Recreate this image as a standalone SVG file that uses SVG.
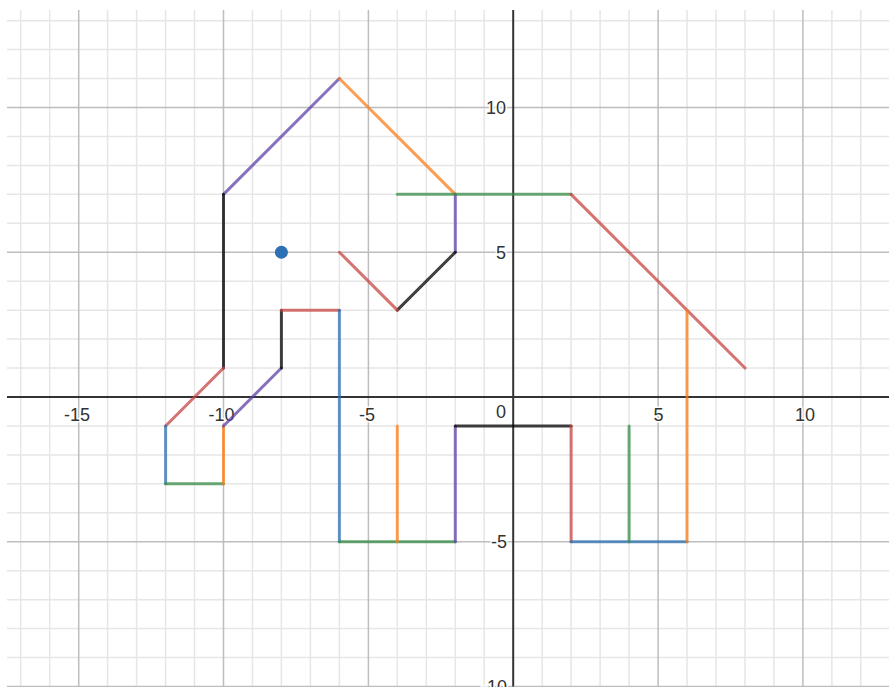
<svg xmlns="http://www.w3.org/2000/svg" width="889" height="687" viewBox="0 0 889 687">
<style>
.minor{stroke:#e6e6e6;stroke-width:1.5;fill:none}
.major{stroke:#bdbdbd;stroke-width:1.5;fill:none}
.axis{stroke:#333;stroke-width:2;fill:none}
.seg{fill:none;stroke-width:3;stroke-linecap:round;stroke-linejoin:round;stroke-opacity:0.75}
.r{stroke:#c74440}.b{stroke:#2d70b3}.g{stroke:#388c46}.p{stroke:#6042a6}.o{stroke:#fa7e19}.k{stroke:#000}
.lbl{font-family:"Liberation Sans",Arial,sans-serif;font-size:18px;fill:#333;stroke:#fff;stroke-width:3;paint-order:stroke;stroke-linejoin:round}
</style>
<rect width="889" height="687" fill="#fff"/>
<g id="grid-minor" class="minor">
<path d="M20.7 10V686.5M49.7 10V686.5M107.6 10V686.5M136.6 10V686.5M165.6 10V686.5M194.5 10V686.5M252.5 10V686.5M281.4 10V686.5M310.4 10V686.5M339.4 10V686.5M397.3 10V686.5M426.3 10V686.5M455.3 10V686.5M484.2 10V686.5M542.2 10V686.5M571.1 10V686.5M600.1 10V686.5M629.1 10V686.5M687 10V686.5M716 10V686.5M745 10V686.5M773.9 10V686.5M831.9 10V686.5M860.8 10V686.5"/>
<path d="M7 20.65H889M7 49.6H889M7 78.55H889M7 136.45H889M7 165.4H889M7 194.35H889M7 223.3H889M7 281.2H889M7 310.15H889M7 339.1H889M7 368.05H889M7 425.95H889M7 454.9H889M7 483.85H889M7 512.8H889M7 570.7H889M7 599.65H889M7 628.6H889M7 657.55H889"/>
</g>
<g id="grid-major" class="major">
<path d="M78.7 10V686.5M223.5 10V686.5M368.4 10V686.5M658.1 10V686.5M802.9 10V686.5"/>
<path d="M7 107.5H889M7 252.25H889M7 541.75H889M7 686.5H889"/>
</g>
<g id="axes" class="axis">
<path d="M513.2 10V686.5"/>
<path d="M7 397H889"/>
</g>
<g id="labels" class="lbl">
<text x="77" y="421" text-anchor="middle">-15</text>
<text x="221.5" y="421" text-anchor="middle">-10</text>
<text x="367" y="421" text-anchor="middle">-5</text>
<text x="501" y="418" text-anchor="middle">0</text>
<text x="658.5" y="421" text-anchor="middle">5</text>
<text x="805" y="421" text-anchor="middle">10</text>
<text x="506" y="114" text-anchor="end">10</text>
<text x="506" y="259" text-anchor="end">5</text>
<text x="507" y="548" text-anchor="end">-5</text>
<text x="507" y="693" text-anchor="end">-10</text>
</g>
<g id="connectors">
<g id="head">
<path class="seg p" d="M223.5 194.35L339.4 78.55"/>
<path class="seg o" d="M339.4 78.55L455.3 194.35"/>
<path class="seg p" d="M455.3 194.35V252.25"/>
<path class="seg k" d="M455.3 252.25L397.3 310.15"/>
<path class="seg r" d="M397.3 310.15L339.4 252.25"/>
<path class="seg g" d="M397.3 194.35H571.1"/>
<path class="seg r" d="M571.1 194.35L745 368.05"/>
</g>
<g id="trunk">
<path class="seg k" d="M223.5 194.35V368.05"/>
<path class="seg r" d="M223.5 368.05L165.6 425.95"/>
<path class="seg b" d="M165.6 425.95V483.85"/>
<path class="seg g" d="M165.6 483.85H223.5"/>
<path class="seg o" d="M223.5 483.85V425.95"/>
<path class="seg p" d="M223.5 425.95L281.4 368.05"/>
<path class="seg k" d="M281.4 368.05V310.15"/>
<path class="seg r" d="M281.4 310.15H339.4"/>
</g>
<g id="body">
<path class="seg b" d="M339.4 310.15V541.75"/>
<path class="seg g" d="M339.4 541.75H455.3"/>
<path class="seg o" d="M397.3 425.95V541.75"/>
<path class="seg p" d="M455.3 541.75V425.95"/>
<path class="seg k" d="M455.3 425.95H571.1"/>
<path class="seg r" d="M571.1 425.95V541.75"/>
<path class="seg b" d="M571.1 541.75H687"/>
<path class="seg g" d="M629.1 425.95V541.75"/>
<path class="seg o" d="M687 541.75V310.15"/>
</g>
</g>
<g id="eye">
<circle cx="281.4" cy="252.25" r="6.5" fill="#2d70b3"/>
</g>
</svg>
